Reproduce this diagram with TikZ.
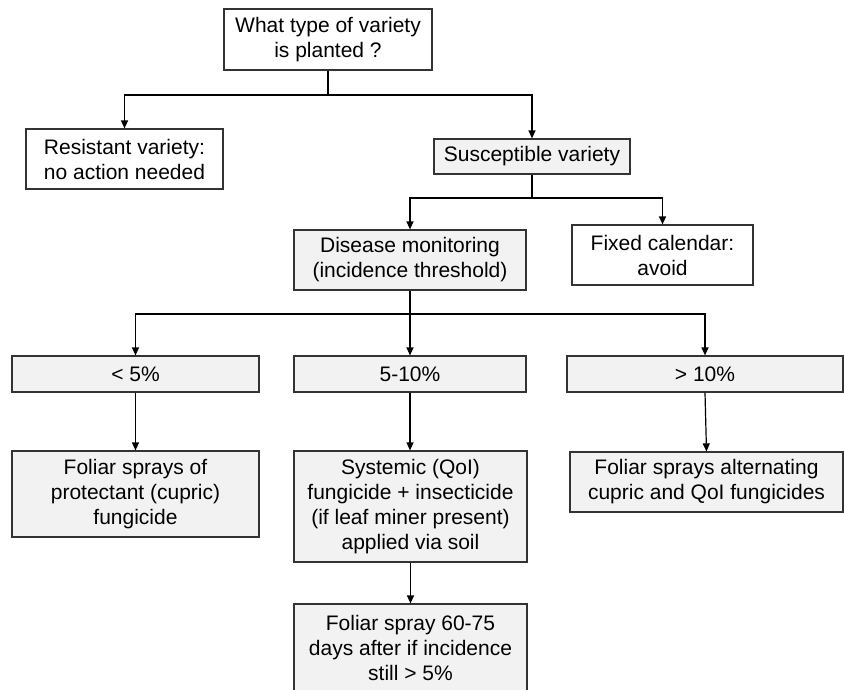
\documentclass[tikz,border=0pt]{standalone}
\usepackage{fontspec}
\setmainfont{Liberation Sans}
\usetikzlibrary{arrows.meta}
\definecolor{boxfill}{HTML}{F2F2F2}
\definecolor{linec}{HTML}{333333}
\tikzset{
  box/.style={draw=linec, line width=1.2pt, rectangle, align=center, inner sep=0pt,
    font=\fontsize{21}{25}\selectfont},
  wbox/.style={box, fill=white},
  gbox/.style={box, fill=boxfill},
  conn/.style={draw=black, line width=1.2pt},
  arr/.style={conn, -{Triangle[length=8pt,width=7pt]}}
}
\begin{document}
\begin{tikzpicture}[x=1pt,y=-1pt]
\useasboundingbox (0,0) rectangle (844,689);
\begin{scope}
\clip (0,0) rectangle (844,689);
\node[wbox, minimum width=208pt, minimum height=61pt] (top) at (328,39.5) {What type of variety\\is planted ?};
\node[wbox, minimum width=197pt, minimum height=60pt] (res) at (124.5,159) {Resistant variety:\\no action needed};
\node[gbox, minimum width=196pt, minimum height=35pt] (sus) at (532,156.5) {Susceptible variety};
\node[gbox, minimum width=232pt, minimum height=60pt] (dis) at (410,260) {Disease monitoring\\(incidence threshold)};
\node[wbox, minimum width=181pt, minimum height=60pt] (fix) at (662.5,255) {Fixed calendar:\\avoid};
\node[gbox, minimum width=247pt, minimum height=36pt] (t1) at (135.5,374) {< 5\%};
\node[gbox, minimum width=232pt, minimum height=36pt] (t2) at (410,374) {5-10\%};
\node[gbox, minimum width=276pt, minimum height=36pt] (t3) at (705,374) {> 10\%};
\node[gbox, minimum width=247pt, minimum height=86pt] (b1) at (135.5,494) {Foliar sprays of\\protectant (cupric)\\fungicide};
\node[gbox, minimum width=233pt, minimum height=111pt] (b2) at (410.5,506.5) {Systemic (QoI)\\fungicide + insecticide\\(if leaf miner present)\\applied via soil};
\node[gbox, minimum width=273pt, minimum height=60pt] (b3) at (706.5,482) {Foliar sprays alternating\\cupric and QoI fungicides};
\node[gbox, minimum width=233pt, minimum height=88pt] (b4) at (410.5,648) {Foliar spray 60-75\\days after if incidence\\still > 5\%};
\end{scope}
\coordinate (j1) at (328,95);
\coordinate (j2) at (532,198);
\coordinate (j3) at (410,314);
\draw[conn] (top.south) -- (j1);
\draw[arr] (j1) -| (res.north);
\draw[arr] (j1) -| (sus.north);
\draw[conn] (sus.south) -- (j2);
\draw[arr] (j2) -| (dis.north);
\draw[arr] (j2) -| (fix.north);
\draw[conn] (dis.south) -- (j3);
\draw[arr] (j3) -| (t1.north);
\draw[arr] (j3) -- (t2.north);
\draw[arr] (j3) -| (t3.north);
\draw[arr] (t1.south) -- (t1.south |- b1.north);
\draw[arr] (t2.south) -- (t2.south |- b2.north);
\draw[arr] (t3.south) -- (b3.north);
\draw[arr] (b2.south) -- (b2.south |- b4.north);
\end{tikzpicture}
\end{document}
